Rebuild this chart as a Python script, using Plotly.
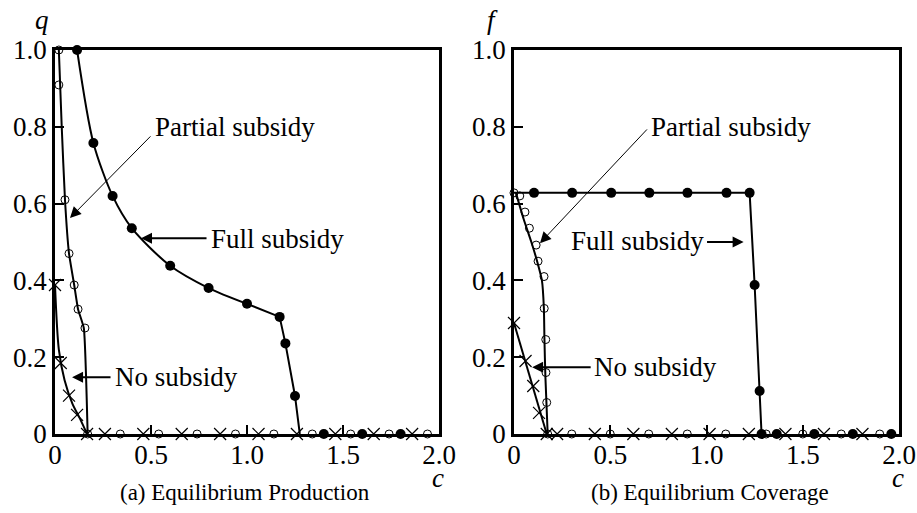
import plotly.graph_objects as go

# ---------------- data ----------------
c_ticks = [0, 0.5, 1.0, 1.5, 2.0]
c_tick_labels = ["0", "0.5", "1.0", "1.5", "2.0"]
y_ticks = [0, 0.2, 0.4, 0.6, 0.8, 1.0]
y_tick_labels = ["0", "0.2", "0.4", "0.6", "0.8", "1.0"]

# (a) Equilibrium Production q(c)
a_full_line_c = [0.115, 0.20, 0.30, 0.40, 0.60, 0.80, 1.00]
a_full_line_q = [1.0, 0.758, 0.62, 0.536, 0.438, 0.38, 0.339]
a_full_tail_c = [1.00, 1.17, 1.20, 1.25, 1.275]
a_full_tail_q = [0.339, 0.305, 0.236, 0.099, 0.0]
a_full_c = [0.115, 0.20, 0.30, 0.40, 0.60, 0.80, 1.00, 1.17, 1.20, 1.25, 1.40, 1.60, 1.80]
a_full_q = [1.0, 0.758, 0.62, 0.536, 0.438, 0.38, 0.339, 0.305, 0.236, 0.099, 0, 0, 0]

a_part_c = [0.02, 0.02, 0.052, 0.073, 0.10, 0.12, 0.156, 0.17,
            0.34, 0.54, 0.74, 0.94, 1.14, 1.34, 1.54, 1.74, 1.94]
a_part_q = [1.0, 0.909, 0.61, 0.47, 0.388, 0.325, 0.276, 0.0,
            0, 0, 0, 0, 0, 0, 0, 0, 0]
a_part_line_c = [0.02, 0.035, 0.052, 0.073, 0.10, 0.12, 0.150, 0.17]
a_part_line_q = [1.0, 0.80, 0.61, 0.47, 0.388, 0.325, 0.276, 0.0]

a_none_c = [0.0, 0.03, 0.073, 0.115, 0.167,
            0.26, 0.46, 0.66, 0.86, 1.06, 1.26, 1.46, 1.66, 1.86]
a_none_q = [0.388, 0.185, 0.10, 0.05, 0.0,
            0, 0, 0, 0, 0, 0, 0, 0, 0]
a_none_line_c = [0.0, 0.02, 0.05, 0.09, 0.13, 0.167]
a_none_line_q = [0.388, 0.22, 0.14, 0.08, 0.04, 0.0]

# (b) Equilibrium Coverage f(c)
b_full_line_c = [0.0, 1.224, 1.25, 1.276, 1.286]
b_full_line_f = [0.628, 0.628, 0.388, 0.112, 0.0]
b_full_c = [0.104, 0.302, 0.505, 0.703, 0.901, 1.104, 1.224, 1.25, 1.276, 1.286, 1.365, 1.56, 1.76, 1.96]
b_full_f = [0.628, 0.628, 0.628, 0.628, 0.628, 0.628, 0.628, 0.388, 0.112, 0, 0, 0, 0, 0]

b_part_c = [0.0, 0.03, 0.057, 0.08, 0.115, 0.125, 0.156, 0.157, 0.165, 0.166, 0.17, 0.175,
            0.30, 0.50, 0.70, 0.90, 1.10, 1.31, 1.50, 1.70, 1.90]
b_part_f = [0.628, 0.62, 0.578, 0.536, 0.492, 0.45, 0.41, 0.327, 0.246, 0.16, 0.082, 0.0,
            0, 0, 0, 0, 0, 0, 0, 0, 0]
b_part_line_c = [0.01, 0.05, 0.09, 0.12, 0.145, 0.155, 0.158, 0.163, 0.175]
b_part_line_f = [0.628, 0.56, 0.50, 0.45, 0.40, 0.33, 0.25, 0.15, 0.0]

b_none_c = [0.0, 0.06, 0.10, 0.13, 0.17,
            0.224, 0.42, 0.62, 0.82, 1.016, 1.22, 1.41, 1.61, 1.81]
b_none_f = [0.289, 0.19, 0.125, 0.055, 0.0,
            0, 0, 0, 0, 0, 0, 0, 0, 0]
b_none_line_c = [0.0, 0.17]
b_none_line_f = [0.289, 0.0]

# ---------------- figure ----------------
W, H = 917, 513
FONT = "Liberation Serif"
fig = go.Figure()

LW = 2

def line(x, y, xa, ya, shape="linear", smooth=1.0):
    kw = dict(shape=shape, color="black", width=LW)
    if shape == "spline":
        kw["smoothing"] = smooth
    fig.add_trace(go.Scatter(x=x, y=y, mode="lines", line=kw, xaxis=xa, yaxis=ya,
                             cliponaxis=False, showlegend=False, hoverinfo="skip"))

def marks(x, y, xa, ya, kind):
    if kind == "full":
        m = dict(symbol="circle", size=10, color="black")
    elif kind == "part":
        m = dict(symbol="circle-open", size=8, color="black", line=dict(width=1, color="black"))
    else:
        m = dict(symbol="x-thin-open", size=12, color="black", line=dict(width=1.2, color="black"))
    fig.add_trace(go.Scatter(x=x, y=y, mode="markers", marker=m, xaxis=xa, yaxis=ya,
                             cliponaxis=False, showlegend=False))

# panel (a)
line(a_full_line_c, a_full_line_q, "x", "y", "spline", 0.8)
line(a_full_tail_c, a_full_tail_q, "x", "y")
line(a_part_line_c, a_part_line_q, "x", "y", "spline", 0.4)
line(a_none_line_c, a_none_line_q, "x", "y", "spline", 0.8)
marks(a_full_c, a_full_q, "x", "y", "full")
marks(a_part_c, a_part_q, "x", "y", "part")
marks(a_none_c, a_none_q, "x", "y", "none")

# panel (b)
line(b_full_line_c, b_full_line_f, "x2", "y2")
line(b_part_line_c, b_part_line_f, "x2", "y2", "spline", 0.6)
line(b_none_line_c, b_none_line_f, "x2", "y2")
marks(b_full_c, b_full_f, "x2", "y2", "full")
marks(b_part_c, b_part_f, "x2", "y2", "part")
marks(b_none_c, b_none_f, "x2", "y2", "none")

axis_common = dict(
    showgrid=False, zeroline=False, showline=True, linecolor="black", linewidth=2.5,
    mirror=True, ticks="inside", ticklen=9, tickwidth=2, tickcolor="black",
    tickfont=dict(family=FONT, size=27, color="black"), layer="below traces",
    fixedrange=True, automargin=False,
)
ydom = [79 / H, 463 / H]
fig.update_layout(
    width=W, height=H, margin=dict(l=0, r=0, t=0, b=0, autoexpand=False),
    paper_bgcolor="white", plot_bgcolor="white",
    xaxis=dict(domain=[55 / W, 439 / W], range=[0, 2], tickvals=c_ticks,
               ticktext=c_tick_labels, anchor="y", ticklabelstandoff=-5, **axis_common),
    yaxis=dict(domain=ydom, range=[0, 1], tickvals=y_ticks, ticktext=y_tick_labels,
               anchor="x", ticklabelstandoff=0, **axis_common),
    xaxis2=dict(domain=[514 / W, 899 / W], range=[0, 2], tickvals=c_ticks,
                ticktext=c_tick_labels, anchor="y2", ticklabelstandoff=-5, **axis_common),
    yaxis2=dict(domain=ydom, range=[0, 1], tickvals=y_ticks, ticktext=y_tick_labels,
                anchor="x2", ticklabelstandoff=0, **axis_common),
)

TXT = dict(family=FONT, size=27, color="black")
ann = []

def label(text, x, y, xr, yr, xanchor="left"):
    ann.append(dict(text=text, x=x, y=y, xref=xr, yref=yr, showarrow=False,
                    xanchor=xanchor, yanchor="middle", font=TXT))

def arrow(x0, y0, x1, y1, xr, yr, width, size):
    ann.append(dict(text="", x=x1, y=y1, ax=x0, ay=y0, xref=xr, yref=yr,
                    axref=xr, ayref=yr, showarrow=True, arrowhead=2,
                    arrowwidth=width, arrowsize=size, arrowcolor="black"))

# panel (a) annotations
label("Partial subsidy", 0.51, 0.80, "x", "y")
arrow(0.505, 0.779, 0.078, 0.5625, "x", "y", 1, 2.2)
label("Full subsidy", 0.80, 0.508, "x", "y")
arrow(0.797, 0.510, 0.448, 0.510, "x", "y", 2, 1.1)
label("No subsidy", 0.30, 0.148, "x", "y")
arrow(0.297, 0.148, 0.089, 0.148, "x", "y", 2, 1.1)

# panel (b) annotations
label("Partial subsidy", 0.703, 0.80, "x2", "y2")
arrow(0.698, 0.797, 0.135, 0.497, "x2", "y2", 1, 2.2)
label("Full subsidy", 0.995, 0.502, "x2", "y2", xanchor="right")
arrow(0.995, 0.500, 1.193, 0.500, "x2", "y2", 2, 1.1)
label("No subsidy", 0.406, 0.174, "x2", "y2")
arrow(0.406, 0.174, 0.094, 0.174, "x2", "y2", 2, 1.1)

# axis letters
AX = dict(family=FONT, size=27, color="black")
for t, px, py in [("q", 42, 20), ("f", 493, 20), ("c", 438, 478), ("c", 898, 478)]:
    ann.append(dict(text="<i>%s</i>" % t, x=px / W, y=1 - py / H, xref="paper", yref="paper",
                    showarrow=False, xanchor="center", yanchor="middle", font=AX))

# captions
CAP = dict(family=FONT, size=23, color="black")
ann.append(dict(text="(a) Equilibrium Production", x=245 / W, y=1 - 492 / H, xref="paper",
                yref="paper", showarrow=False, xanchor="center", yanchor="middle", font=CAP))
ann.append(dict(text="(b) Equilibrium Coverage", x=710 / W, y=1 - 492 / H, xref="paper",
                yref="paper", showarrow=False, xanchor="center", yanchor="middle", font=CAP))

fig.update_layout(annotations=ann)
fig.write_html("out.html", config={"displayModeBar": False},
               post_script="document.body.style.margin='0';")
